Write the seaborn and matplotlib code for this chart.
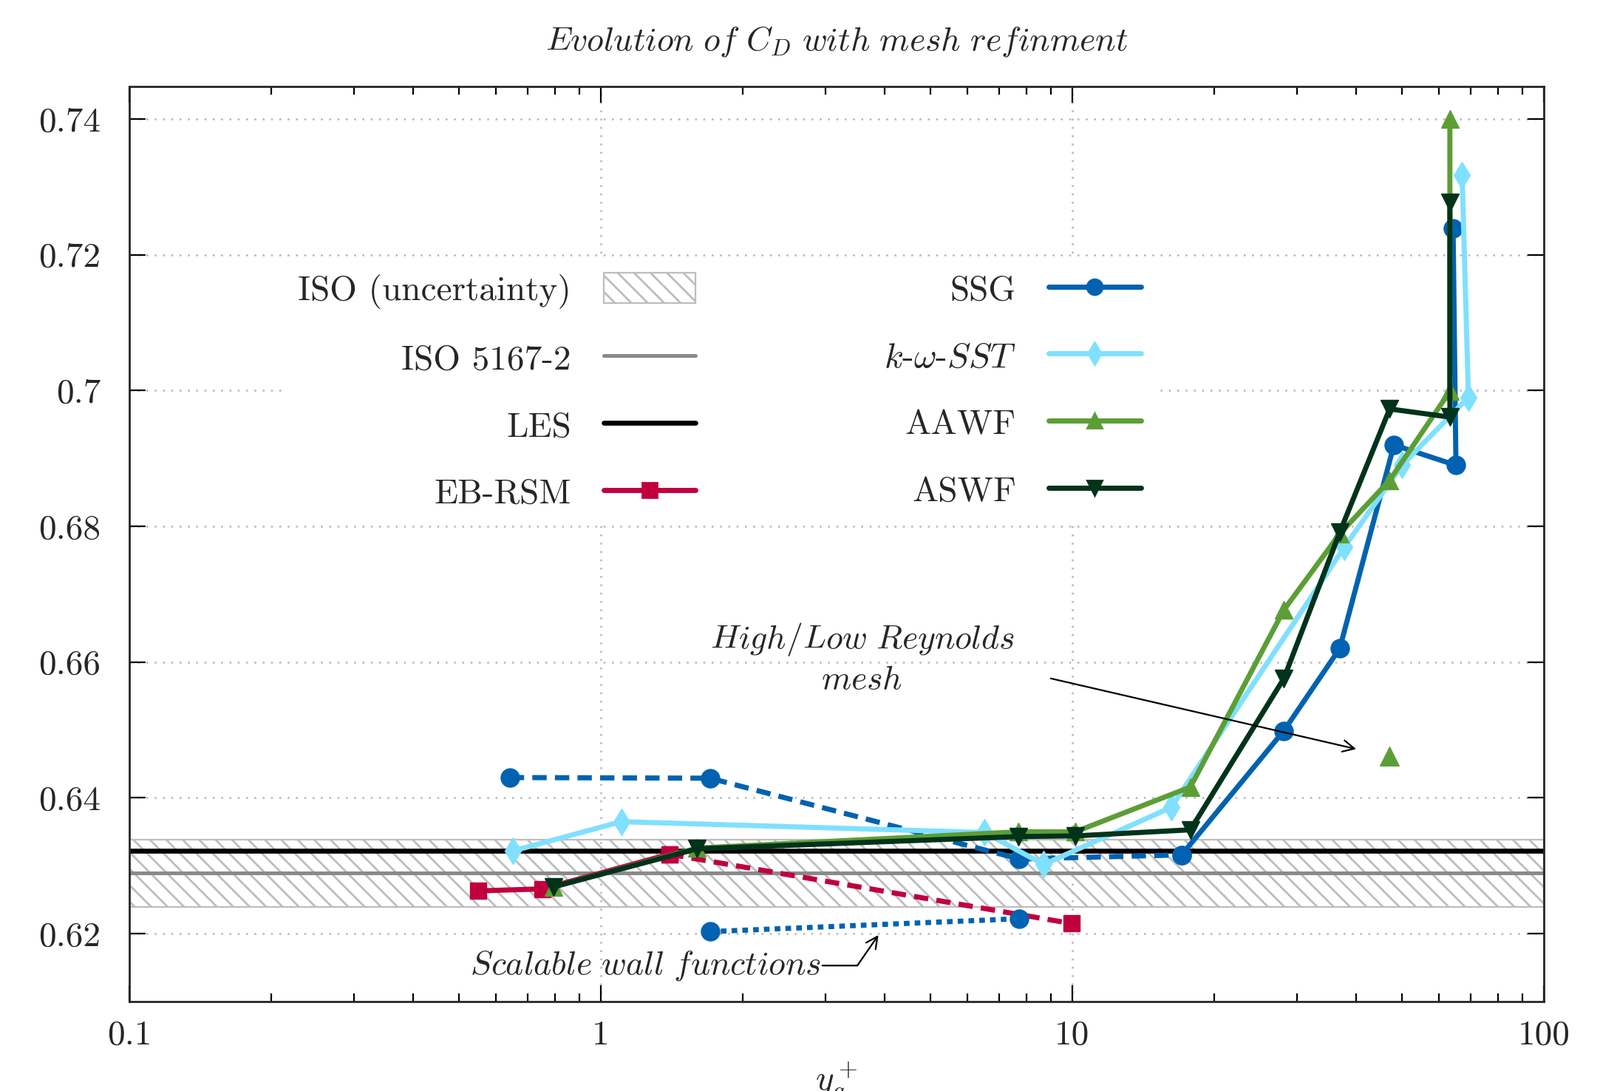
import numpy as np
import pandas as pd
import matplotlib
matplotlib.use("Agg")
import matplotlib.pyplot as plt
import seaborn as sns
from matplotlib.ticker import FixedLocator, FuncFormatter, LogLocator, NullFormatter
from matplotlib.patches import Patch
from matplotlib.lines import Line2D

# ---------------- data ----------------
iso_band = [0.6239, 0.6338]
iso_ref = 0.6289
les_cd = 0.6322

ssg_x = [17.05, 28.1, 36.9, 48.1, 65.1, 64.2]
ssg_y = [0.6316, 0.6499, 0.6620, 0.6920, 0.6890, 0.7239]
ssg_low_x = [0.641, 1.705, 7.72, 17.05]
ssg_low_y = [0.6430, 0.6429, 0.6310, 0.6316]
ssg_swf_x = [1.705, 7.72]
ssg_swf_y = [0.6203, 0.6222]

sst_x = [0.652, 1.105, 6.51, 8.70, 16.2, 37.8, 50.0, 69.2, 67.1]
sst_y = [0.6322, 0.6365, 0.6349, 0.6302, 0.6386, 0.6770, 0.6890, 0.6990, 0.7317]

aawf_x = [0.794, 1.60, 7.68, 10.15, 17.8, 28.1, 36.9, 47.1, 63.2, 63.2]
aawf_y = [0.6269, 0.6326, 0.6350, 0.6350, 0.6416, 0.6677, 0.6789, 0.6868, 0.6999, 0.7400]
aawf_iso_x = [47.0]
aawf_iso_y = [0.6462]

aswf_x = [0.794, 1.60, 7.68, 10.15, 17.8, 28.1, 36.9, 47.1, 63.2, 63.2]
aswf_y = [0.6269, 0.6325, 0.6343, 0.6344, 0.6353, 0.6576, 0.6791, 0.6973, 0.6961, 0.7277]

ebrsm_x = [0.55, 0.753, 1.397]
ebrsm_y = [0.6263, 0.6266, 0.6317]
ebrsm_low_x = [1.397, 9.95]
ebrsm_low_y = [0.6317, 0.6215]

x_ticks = [0.1, 1, 10, 100]
y_ticks = [0.62, 0.64, 0.66, 0.68, 0.70, 0.72, 0.74]

# ---------------- style ----------------
sns.set_style("ticks")
plt.rcParams["font.family"] = ["cmr10", "DejaVu Serif"]
plt.rcParams["mathtext.fontset"] = "cm"
plt.rcParams["axes.formatter.use_mathtext"] = True
plt.rcParams["axes.unicode_minus"] = False
plt.rcParams["hatch.linewidth"] = 1.0

FS = 17
FS_IT = 16.5
LW = 2.5

C_SSG = "#0062b0"
C_SST = "#80e0ff"
C_AAWF = "#5c9e36"
C_ASWF = "#00331a"
C_EB = "#c0003e"
C_HATCH = "#bdbdbd"

fig = plt.figure(figsize=(10.825, 7.38), dpi=200)
ax = fig.add_axes([0.0808, 0.082, 0.9649 - 0.0808, 0.9207 - 0.082])

# reference band / lines
ax.axhspan(iso_band[0], iso_band[1], facecolor="none", edgecolor=C_HATCH,
           hatch="\\\\\\", lw=0.8, zorder=1)
ax.axhline(iso_ref, color="#8a8a8a", lw=1.8, zorder=2)
ax.axhline(les_cd, color="black", lw=2.4, zorder=2)

DASH = (0, (2.8, 1.6))
DOT = (0, (1.1, 1.0))

def series(x, y, color, marker, ms, ls="-", z=3):
    df = pd.DataFrame({"x": x, "y": y})
    sns.lineplot(data=df, x="x", y="y", ax=ax, sort=False, estimator=None,
                 color=color, marker=marker, markersize=ms, mec=color, mew=0.5,
                 lw=LW, linestyle=ls, zorder=z, legend=False)

series(ebrsm_x, ebrsm_y, C_EB, "s", 8, "-", 3)
series(ebrsm_low_x, ebrsm_low_y, C_EB, "s", 8, DASH, 3)
series(ssg_low_x, ssg_low_y, C_SSG, "o", 9, DASH, 4)
series(ssg_swf_x, ssg_swf_y, C_SSG, "o", 9, DOT, 4)
series(ssg_x, ssg_y, C_SSG, "o", 9, "-", 4)
series(sst_x, sst_y, C_SST, "d", 9, "-", 5)
series(aawf_x, aawf_y, C_AAWF, "^", 8.5, "-", 6)
sns.scatterplot(x=aawf_iso_x, y=aawf_iso_y, ax=ax, color=C_AAWF, marker="^",
                s=85, edgecolor=C_AAWF, linewidth=0.5, zorder=6, legend=False)
series(aswf_x, aswf_y, C_ASWF, "v", 8.5, "-", 7)

# axes
ax.set_xscale("log")
ax.set_xlim(0.1, 100)
ax.set_ylim(0.610, 0.7448)
ax.xaxis.set_major_locator(FixedLocator(x_ticks))
ax.xaxis.set_major_formatter(FuncFormatter(lambda v, p: "%g" % v))
ax.xaxis.set_minor_locator(LogLocator(base=10, subs=np.arange(2, 10)))
ax.xaxis.set_minor_formatter(NullFormatter())
ax.yaxis.set_major_locator(FixedLocator(y_ticks))
ax.yaxis.set_major_formatter(FuncFormatter(lambda v, p: "%g" % round(v, 2)))
ax.tick_params(which="both", direction="in", top=True, right=True, width=0.8,
               labelsize=FS, color="black")
ax.tick_params(which="major", length=8)
ax.tick_params(which="minor", length=4)
ax.tick_params(axis="y", pad=14)
ax.tick_params(axis="x", pad=9)
for s in ax.spines.values():
    s.set_linewidth(1.0)
ax.grid(True, which="major", color="#b5b5b5", lw=0.9, ls=(0, (1, 3.5)))
ax.set_axisbelow(True)

ax.set_ylabel("")
ax.set_xlabel(r"$y_a^+$", fontsize=FS)
ax.xaxis.set_label_coords(0.5, -0.064)

ax.text(0.5, 1.049, r"$Evolution\ of\ C_D\ with\ mesh\ refinment$",
        transform=ax.transAxes, ha="center", va="center", fontsize=FS_IT)

# annotations
ax.annotate("", xy=(40.0, 0.6472), xytext=(9.0, 0.6576),
            arrowprops=dict(arrowstyle="->", color="black", lw=0.8,
                            shrinkA=0, shrinkB=0, mutation_scale=14), zorder=8)
ax.text(3.58, 0.6606, "$High/Low\\ Reynolds$\n$mesh$", ha="center", va="center",
        fontsize=FS_IT, linespacing=1.3)
ax.text(2.93, 0.6153, r"$Scalable\ wall\ functions$", ha="right", va="center",
        fontsize=FS_IT)
ax.annotate("", xy=(3.50, 0.6153), xytext=(2.95, 0.6153),
            arrowprops=dict(arrowstyle="-", color="black", lw=0.8,
                            shrinkA=0, shrinkB=0))
ax.annotate("", xy=(3.88, 0.6198), xytext=(3.50, 0.6153),
            arrowprops=dict(arrowstyle="->", color="black", lw=0.8,
                            shrinkA=0, shrinkB=0, mutation_scale=14))

# legend
def lh(color, marker, ms):
    return Line2D([], [], color=color, marker=marker, markersize=ms, mec=color, lw=LW)

handles = [
    Patch(facecolor="white", edgecolor=C_HATCH, hatch="\\\\\\", lw=0.8),
    Line2D([], [], color="#8a8a8a", lw=1.8),
    Line2D([], [], color="black", lw=2.4),
    lh(C_EB, "s", 7),
    lh(C_SSG, "o", 7.5),
    lh(C_SST, "d", 7.5),
    lh(C_AAWF, "^", 7),
    lh(C_ASWF, "v", 7),
]
labels = ["ISO (uncertainty)", "ISO 5167-2", "LES", "EB-RSM",
          "SSG", r"$k\text{-}\omega\text{-}SST$", "AAWF", "ASWF"]
leg = ax.legend(handles, labels, ncol=2, markerfirst=False, loc="upper right",
                bbox_to_anchor=(0.7249, 0.8114), borderaxespad=0.0,
                fontsize=FS, frameon=True,
                facecolor="white", edgecolor="none", framealpha=1.0,
                fancybox=False, handlelength=2.63, handleheight=0.95,
                handletextpad=0.94, labelspacing=0.955, columnspacing=5.4,
                borderpad=0.4)
leg.set_zorder(9)

fig.savefig("out.png", dpi=200)
